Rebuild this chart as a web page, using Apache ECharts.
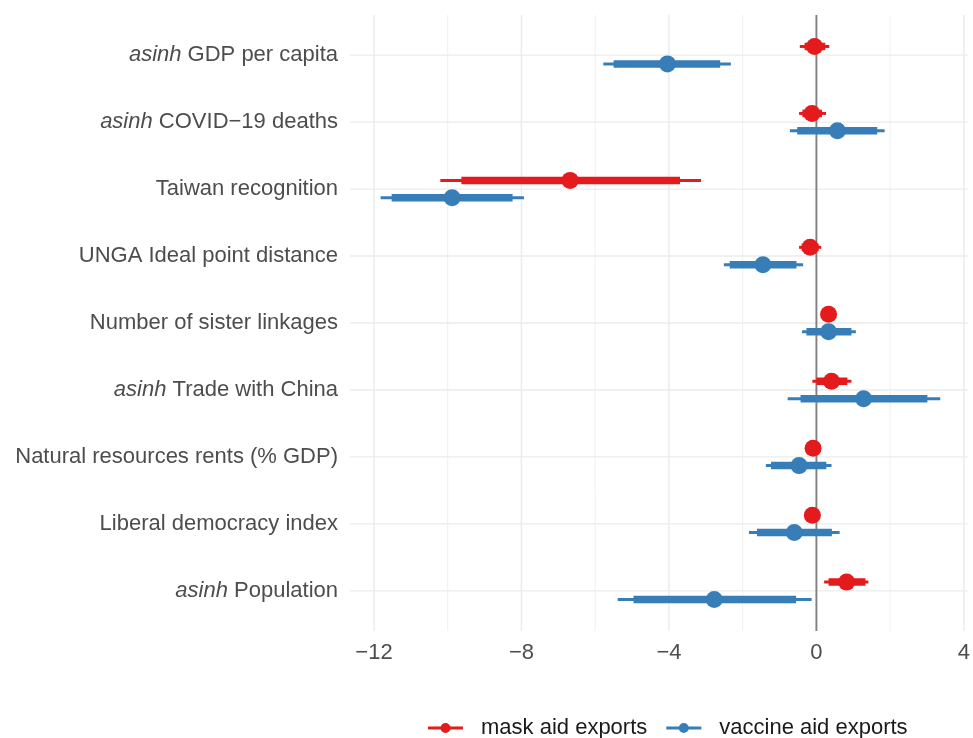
<!DOCTYPE html>
<html><head><meta charset="utf-8">
<script src="https://cdn.jsdelivr.net/npm/echarts@6/dist/echarts.min.js"></script>
<style>html,body{margin:0;padding:0;background:#fff}#c{width:973px;height:738px}</style>
</head><body><div id="c"></div>
<script>
const categories = ['asinh GDP per capita', 'asinh COVID\u221219 deaths', 'Taiwan recognition', 'UNGA Ideal point distance', 'Number of sister linkages', 'asinh Trade with China', 'Natural resources rents (% GDP)', 'Liberal democracy index', 'asinh Population'];

const maskEst  = [-0.05, -0.12, -6.68, -0.17, 0.33, 0.41, -0.09, -0.11, 0.82];
const maskLo95 = [-0.45, -0.47, -10.2, -0.47, 0.15, -0.11, -0.30, -0.30, 0.21];
const maskHi95 = [0.35, 0.26, -3.13, 0.13, 0.50, 0.95, 0.12, 0.10, 1.41];
const maskLo90 = [-0.32, -0.38, -9.63, -0.40, 0.20, 0.00, -0.25, -0.25, 0.33];
const maskHi90 = [0.24, 0.15, -3.70, 0.06, 0.45, 0.84, 0.08, 0.05, 1.33];

const vacEst  = [-4.04, 0.57, -9.88, -1.45, 0.33, 1.28, -0.47, -0.60, -2.77];
const vacLo95 = [-5.78, -0.72, -11.82, -2.51, -0.39, -0.78, -1.37, -1.83, -5.39];
const vacHi95 = [-2.32, 1.85, -7.93, -0.36, 1.07, 3.36, 0.41, 0.63, -0.13];
const vacLo90 = [-5.50, -0.52, -11.52, -2.35, -0.27, -0.43, -1.23, -1.61, -4.96];
const vacHi90 = [-2.61, 1.65, -8.24, -0.54, 0.95, 3.01, 0.27, 0.42, -0.55];

const xTicks = [-12, -8, -4, 0, 4];
const xMinorTicks = [-10, -6, -2, 2];
const seriesNames = ['mask aid exports', 'vaccine aid exports'];

const X_MIN = -12.65, X_MAX = 4.1, Y_MIN = -0.6, Y_MAX = 8.6;
const RED = '#E41A1C', BLUE = '#377EB8';
const FONT = '"Liberation Sans", Arial, Helvetica, sans-serif';
const FS = 22;
const OFF = [-0.13, 0.13];

const chart = echarts.init(document.getElementById('c'), null, {renderer: 'canvas'});

function intervalData(lo95, hi95, lo90, hi90) {
  return categories.map((c, i) => [lo95[i], hi95[i], lo90[i], hi90[i], i]);
}
function pointData(est, off) {
  return est.map((v, i) => [v, i + off]);
}
function renderInterval(off, color) {
  return function (params, api) {
    const y = api.value(4) + off;
    const a = api.coord([api.value(0), y]), b = api.coord([api.value(1), y]);
    const c = api.coord([api.value(2), y]), d = api.coord([api.value(3), y]);
    return {type: 'group', children: [
      {type: 'line', shape: {x1: a[0], y1: a[1], x2: b[0], y2: b[1]}, style: {stroke: color, lineWidth: 3}},
      {type: 'line', shape: {x1: c[0], y1: c[1], x2: d[0], y2: d[1]}, style: {stroke: color, lineWidth: 7.5}}
    ]};
  };
}
function vLines(values, color, width, z) {
  return {
    type: 'custom', silent: true, z: z, clip: false,
    data: values.map(v => [v, 0]),
    encode: {x: 0, y: 1},
    renderItem: function (params, api) {
      const p1 = api.coord([api.value(0), Y_MIN]), p2 = api.coord([api.value(0), Y_MAX]);
      return {type: 'line', shape: {x1: p1[0], y1: p1[1], x2: p2[0], y2: p2[1]}, style: {stroke: color, lineWidth: width}};
    }
  };
}
function hLines(values, color, width, z) {
  return {
    type: 'custom', silent: true, z: z, clip: false,
    data: values.map(v => [0, v]),
    encode: {x: 0, y: 1},
    renderItem: function (params, api) {
      const p1 = api.coord([X_MIN, api.value(1)]), p2 = api.coord([X_MAX, api.value(1)]);
      return {type: 'line', shape: {x1: p1[0], y1: p1[1], x2: p2[0], y2: p2[1]}, style: {stroke: color, lineWidth: width}};
    }
  };
}

const legendIcon = 'path://M0,3.6 L35,3.6 L35,6.4 L0,6.4 Z M17.5,0 A5,5 0 1,1 17.49,0 Z';

chart.setOption({
  animation: false,
  backgroundColor: '#fff',
  textStyle: {fontFamily: FONT},
  grid: {left: 350, right: 3, top: 15, bottom: 107, containLabel: false},
  legend: {
    left: 423, top: 712,
    itemWidth: 35, itemHeight: 10, itemGap: 19,
    textStyle: {fontFamily: FONT, fontSize: FS, color: '#1a1a1a', padding: [0, 0, 0, 13]},
    data: [
      {name: seriesNames[0], icon: legendIcon, itemStyle: {color: RED}},
      {name: seriesNames[1], icon: legendIcon, itemStyle: {color: BLUE}}
    ]
  },
  xAxis: {
    type: 'value', min: X_MIN, max: X_MAX,
    axisLine: {show: false}, axisTick: {show: false}, splitLine: {show: false},
    axisLabel: {
      customValues: xTicks, margin: 11, color: '#4D4D4D', fontSize: FS, fontFamily: FONT,
      formatter: v => (v < 0 ? '\u2212' + Math.abs(v) : String(v))
    }
  },
  yAxis: {
    type: 'value', min: Y_MIN, max: Y_MAX, inverse: true,
    axisLine: {show: false}, axisTick: {show: false}, splitLine: {show: false},
    axisLabel: {
      customValues: categories.map((c, i) => i), margin: 12, color: '#4D4D4D', fontSize: FS, fontFamily: FONT,
      formatter: function (v) {
        const s = categories[Math.round(v)] || '';
        if (s.indexOf('asinh ') === 0) return '{i|asinh} ' + s.slice(6);
        return s;
      },
      rich: {i: {fontStyle: 'italic', fontSize: FS, color: '#4D4D4D', fontFamily: FONT}}
    }
  },
  series: [
    vLines(xMinorTicks, '#F0F0F0', 1, 0),
    vLines(xTicks.filter(v => v !== 0), '#EBEBEB', 1.4, 0),
    hLines(categories.map((c, i) => i), '#EBEBEB', 1.4, 0),
    vLines([0], '#808080', 1.9, 1),
    {
      name: seriesNames[0], type: 'custom', z: 2, data: intervalData(maskLo95, maskHi95, maskLo90, maskHi90),
      encode: {x: [0, 1, 2, 3], y: 4}, renderItem: renderInterval(OFF[0], RED), itemStyle: {color: RED}
    },
    {
      name: seriesNames[0], type: 'scatter', z: 3, data: pointData(maskEst, OFF[0]),
      symbol: 'circle', symbolSize: 17, itemStyle: {color: RED, opacity: 1}
    },
    {
      name: seriesNames[1], type: 'custom', z: 4, data: intervalData(vacLo95, vacHi95, vacLo90, vacHi90),
      encode: {x: [0, 1, 2, 3], y: 4}, renderItem: renderInterval(OFF[1], BLUE), itemStyle: {color: BLUE}
    },
    {
      name: seriesNames[1], type: 'scatter', z: 5, data: pointData(vacEst, OFF[1]),
      symbol: 'circle', symbolSize: 17, itemStyle: {color: BLUE, opacity: 1}
    }
  ]
});
</script>
</body></html>
